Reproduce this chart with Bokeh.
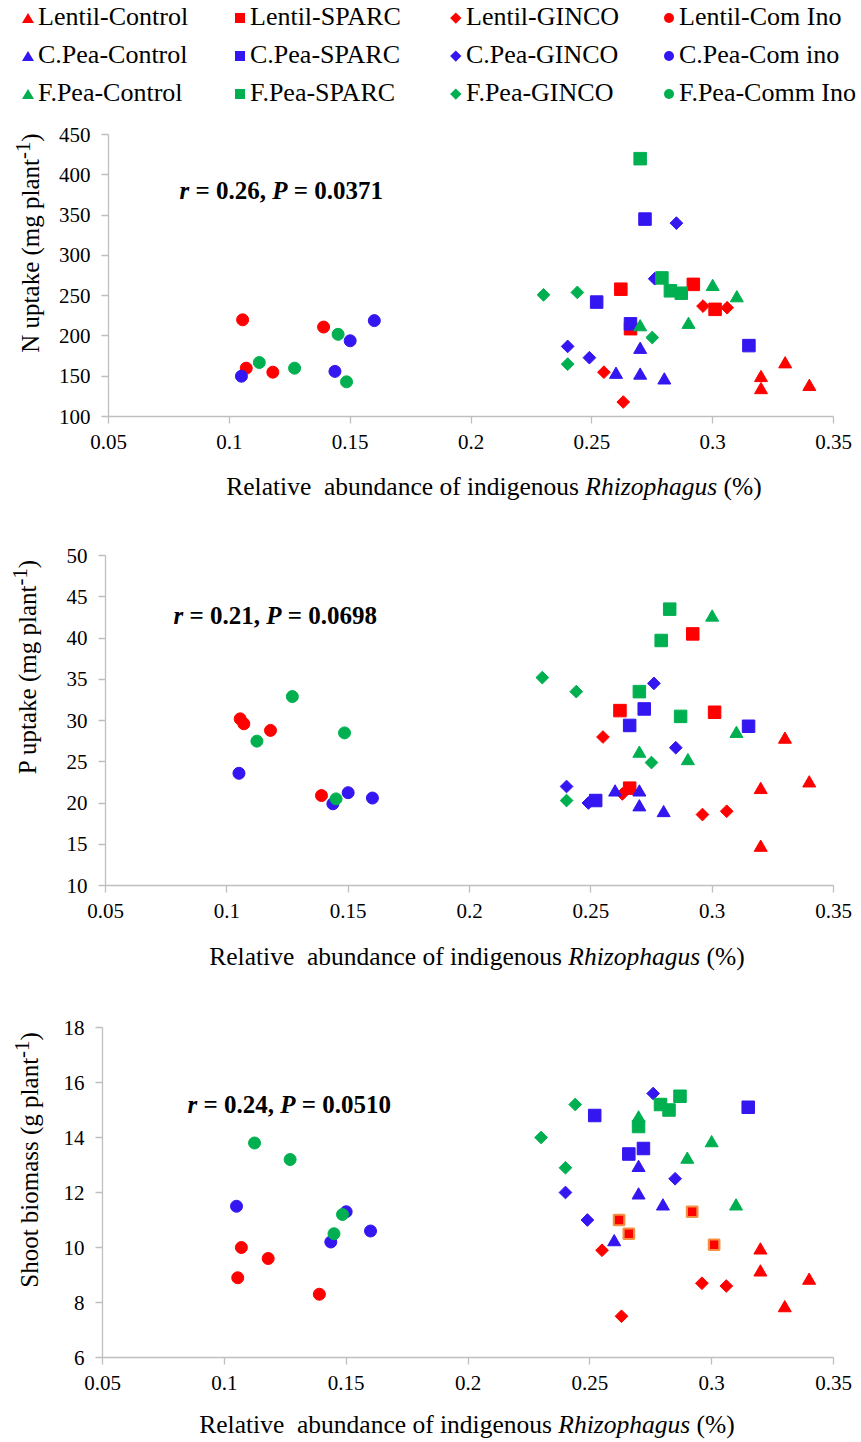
import math
from bokeh.plotting import figure
from bokeh.models import Range1d, FixedTicker, CustomJSTickFormatter, Label, Div
from bokeh.layouts import column, row
from bokeh.embed import file_html
from bokeh.resources import INLINE

NaN = float("nan")

# ---------------- data ----------------
groups = ["Lentil-Control", "Lentil-SPARC", "Lentil-GINCO", "Lentil-Com Ino",
          "C.Pea-Control", "C.Pea-SPARC", "C.Pea-GINCO", "C.Pea-Com ino",
          "F.Pea-Control", "F.Pea-SPARC", "F.Pea-GINCO", "F.Pea-Comm Ino"]
crop_index = [0, 0, 0, 0, 1, 1, 1, 1, 2, 2, 2, 2]
treat_index = [0, 1, 2, 3, 0, 1, 2, 3, 0, 1, 2, 3]
crop_colors = ["#FF0000", "#3316F0", "#00B050"]
treat_markers = ["triangle", "square", "diamond", "circle"]

rel_abundance = [
    [0.320, 0.320, 0.330, 0.340],
    [0.262, 0.266, 0.292, 0.301],
    [0.255, 0.263, 0.296, 0.306],
    [0.1055, 0.107, 0.118, 0.139],
    [0.260, 0.270, 0.270, 0.280],
    [0.252, 0.266, 0.272, 0.315],
    [0.240, 0.249, 0.276, 0.285],
    [0.105, 0.1437, 0.150, 0.160],
    [0.270, 0.290, 0.300, 0.310],
    [0.270, 0.279, 0.2825, 0.287],
    [0.230, 0.240, 0.244, 0.275],
    [0.1124, 0.127, 0.145, 0.1485],
]
n_uptake = [
    [148, 133, 165, 137],
    [258, 209, 264, 233],
    [155, 118, 237, 235],
    [220, 160, 155, 211],
    [152, 151, 183, 145],
    [242, 215, 345, 188],
    [187, 173, 271, 340],
    [150, 156, 194, 219],
    [211, 214, 261, 247],
    [420, 272, 256, 253],
    [251, 165, 254, 198],
    [167, 160, 202, 143],
]
p_uptake = [
    [21.6, 14.6, 27.7, 22.4],
    [31.2, 21.8, 40.5, 31.0],
    [28.0, 21.1, 18.6, 19.0],
    [30.2, 29.6, 28.8, 20.9],
    [21.3, 21.3, 19.5, 18.8],
    [20.3, 29.4, 31.4, 29.3],
    [22.0, 20.0, 34.5, 26.7],
    [23.6, 19.9, 21.25, 20.6],
    [26.0, 25.1, 42.5, 28.4],
    [33.5, 39.7, 43.5, 30.5],
    [35.2, 20.3, 33.5, 24.9],
    [27.5, 32.9, 20.5, 28.5],
]
shoot_biomass = [
    [9.9, 9.1, 7.8, 8.8],
    [11.0, 10.5, 11.3, 10.1],
    [9.9, 7.5, 8.7, 8.6],
    [8.9, 10.0, 9.6, 8.3],
    [10.2, 12.9, 11.9, 11.5],
    [14.8, 13.4, 13.6, 15.1],
    [12.0, 11.0, 15.6, 12.5],
    [11.5, 10.2, 11.3, 10.6],
    [14.7, 13.2, 13.8, 11.5],
    [14.4, 15.2, 15.0, 15.5],
    [14.0, 12.9, 15.2, NaN],
    [13.8, 13.2, 10.5, 11.2],
]

x_ticks = [0.05, 0.1, 0.15, 0.2, 0.25, 0.3, 0.35]
n_ticks = [100, 150, 200, 250, 300, 350, 400, 450]
p_ticks = [10, 15, 20, 25, 30, 35, 40, 45, 50]
s_ticks = [6, 8, 10, 12, 14, 16, 18]

y_titles_html = ["N uptake (mg plant<sup>-1</sup>)", "P uptake (mg plant<sup>-1</sup>)",
                 "Shoot biomass (g plant<sup>-1</sup>)"]
stats_r = ["0.26", "0.21", "0.24"]
stats_p = ["0.0371", "0.0698", "0.0510"]
x_title_html = "Relative&nbsp; abundance of indigenous <i>Rhizophagus</i> (%)"

# bold / bold-italic Times metrics (per 1000 em) for the statistics line
BOLD = {' ': 250, '=': 570, '.': 250, ',': 250}
BOLDIT = {'r': 389, 'P': 611}


def tw(s, table, size):
    return sum(table.get(c, 500) for c in s) / 1000.0 * size


FONT = "Liberation Serif"
TXT = "#000000"
AXC = "#BFBFBF"
YDIV_W = 46

# ---------------- legend (HTML) ----------------
col_x = [28, 240, 456, 669]
row_y = [18, 56, 94]


def marker_css(m, c, cx, cy):
    if m == "triangle":
        return (f"position:absolute;left:{cx-6}px;top:{cy-5}px;width:0;height:0;"
                f"border-left:6px solid transparent;border-right:6px solid transparent;"
                f"border-bottom:10px solid {c};")
    if m == "square":
        return f"position:absolute;left:{cx-5}px;top:{cy-5}px;width:10px;height:10px;background:{c};"
    if m == "diamond":
        return (f"position:absolute;left:{cx-3.8}px;top:{cy-3.8}px;width:7.6px;height:7.6px;"
                f"background:{c};transform:rotate(45deg);")
    return (f"position:absolute;left:{cx-5}px;top:{cy-5}px;width:10px;height:10px;"
            f"background:{c};border-radius:50%;")


items = []
for i, g in enumerate(groups):
    cx = col_x[i % 4]
    cy = row_y[i // 4]
    m = treat_markers[treat_index[i]]
    c = crop_colors[crop_index[i]]
    items.append(f'<div style="{marker_css(m, c, cx, cy)}"></div>')
    items.append(f'<span style="position:absolute;left:{cx+10}px;top:{cy-14}px;'
                 f'line-height:26px;white-space:nowrap;">{g}</span>')
legend_div = Div(text=(f'<div style="position:relative;width:861px;height:110px;'
                       f'font-family:\'{FONT}\';font-size:26px;color:{TXT};">'
                       + "".join(items) + "</div>"),
                 width=861, height=110, margin=0)


def xtitle_div(h, cx, cy):
    html = (f'<div style="position:relative;width:861px;height:{h}px;'
            f'font-family:\'{FONT}\';font-size:25.5px;color:{TXT};">'
            f'<span style="position:absolute;left:{cx}px;top:{cy-13}px;line-height:26px;'
            f'white-space:nowrap;transform:translateX(-50%);">{x_title_html}</span></div>')
    return Div(text=html, width=861, height=h, margin=0)


def ytitle_div(h, html_text, cx, cy):
    html = (f'<div style="position:relative;width:{YDIV_W}px;height:{h}px;'
            f'font-family:\'{FONT}\';font-size:25px;color:{TXT};">'
            f'<span style="position:absolute;left:{cx}px;top:{cy}px;line-height:26px;'
            f'white-space:nowrap;transform:translate(-50%,-50%) rotate(-90deg);">'
            f'{html_text}</span></div>')
    return Div(text=html, width=YDIV_W, height=h, margin=0)


# ---------------- panels ----------------
panel_specs = [
    dict(geom=(354, 108, 28, 24, 48), yr=(100, 450), yt=n_ticks, yv=n_uptake,
         ytitle=(27, 133), xdiv=(46, 494, 23), stat_pos=(179, 80)),
    dict(geom=(422, 105, 28, 45, 47), yr=(10, 50), yt=p_ticks, yv=p_uptake,
         ytitle=(24, 157), xdiv=(43, 477, 25), stat_pos=(173, 105)),
    dict(geom=(425, 102, 28, 52, 43), yr=(6, 18), yt=s_ticks, yv=shoot_biomass,
         ytitle=(26, 185), xdiv=(42, 467, 25), stat_pos=(187, 129)),
]

main_sizes = {"triangle": 13, "square": 12.5, "diamond": 9, "circle": 12}

children = [legend_div]
for k, spec in enumerate(panel_specs):
    H, L, R, T, B = spec["geom"]
    y0, y1 = spec["yr"]
    p = figure(width=861 - YDIV_W, height=H, x_range=Range1d(0.05, 0.35),
               y_range=Range1d(y0, y1),
               min_border_left=L - YDIV_W, min_border_right=R, min_border_top=T,
               min_border_bottom=B, output_backend="svg", toolbar_location=None)
    p.grid.visible = False
    p.outline_line_color = None
    p.xaxis.ticker = FixedTicker(ticks=x_ticks)
    p.yaxis.ticker = FixedTicker(ticks=spec["yt"])
    p.xaxis.formatter = CustomJSTickFormatter(
        code="return tick.toFixed(2).replace(/0+$/, '').replace(/\\.$/, '');")
    for ax in [p.xaxis[0], p.yaxis[0]]:
        ax.axis_line_color = AXC
        ax.axis_line_width = 1.3
        ax.major_tick_line_color = AXC
        ax.major_tick_line_width = 1.3
        ax.major_tick_in = 0
        ax.major_tick_out = 7
        ax.minor_tick_line_color = None
        ax.major_label_text_font = FONT
        ax.major_label_text_font_size = "21px"
        ax.major_label_text_color = TXT
    p.xaxis[0].major_label_standoff = 11
    p.yaxis[0].major_label_standoff = 11

    fw = 861 - L - R
    fh = H - T - B

    def xd(px, L=L, fw=fw):
        return 0.05 + (px - L) / fw * 0.3

    def yd(py, T=T, fh=fh, y0=y0, y1=y1):
        return y1 - (py - T) / fh * (y1 - y0)

    for i in range(len(groups)):
        m = treat_markers[treat_index[i]]
        c = crop_colors[crop_index[i]]
        lc = c
        lw = 1
        sz = main_sizes[m]
        if k == 2 and i == 1:
            lc = "#F39143"
            lw = 2.2
            sz = 10.5
        if m == "diamond":
            p.scatter(rel_abundance[i], spec["yv"][i], marker="square", angle=math.pi / 4,
                      size=sz, fill_color=c, line_color=lc, line_width=lw)
        else:
            p.scatter(rel_abundance[i], spec["yv"][i], marker=m, size=sz,
                      fill_color=c, line_color=lc, line_width=lw)

    # statistics annotation
    F = 25
    sx, sy = spec["stat_pos"]
    segs = [("r", "bold italic", BOLDIT), ("= " + stats_r[k] + ",", "bold", BOLD),
            ("P", "bold italic", BOLDIT), ("= " + stats_p[k], "bold", BOLD)]
    bsp = tw(" ", BOLD, F)
    x = sx
    for s, style, table in segs:
        p.add_layout(Label(x=xd(x), y=yd(sy), text=s, text_align="left",
                           text_baseline="middle", text_font=FONT, text_font_size="25px",
                           text_font_style=style, text_color=TXT))
        x += tw(s, table, F) + bsp

    ycx, ycy = spec["ytitle"]
    children.append(row(ytitle_div(H, y_titles_html[k], ycx, ycy), column(p, spacing=0),
                        spacing=0))
    h, cx, cy = spec["xdiv"]
    children.append(xtitle_div(h, cx, cy))

layout = column(*children, spacing=0)
open("out.html", "w").write(file_html(layout, INLINE))
